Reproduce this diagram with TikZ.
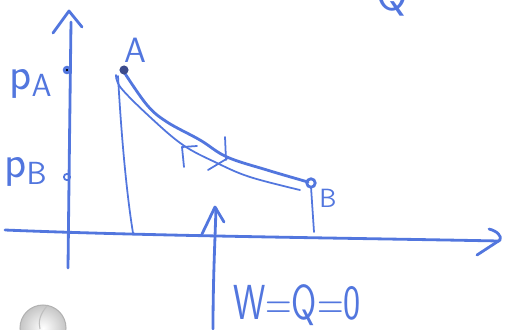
\documentclass[tikz,border=0pt]{standalone}
\usepackage{tikz}
\usepackage{amsmath}

\definecolor{pen}{RGB}{82,118,222}
\definecolor{pendot}{RGB}{60,75,140}

\begin{document}
\begin{tikzpicture}[
    x=0.02cm, y=-0.02cm,
    every node/.style={font=\sffamily, text=pen},
    pen/.style={draw=pen, line width=1.6pt, line cap=round, line join=round},
    thinpen/.style={draw=pen, line width=1.0pt, line cap=round, line join=round},
]

\useasboundingbox (0,0) rectangle (506,329);

% === State points ===
\coordinate (A) at (124,70);
\coordinate (B) at (311,183);
\coordinate (pAdot) at (67,70);
\coordinate (pBdot) at (67,177);

% === Axes ===
% Vertical (p) axis
\draw[pen] (68,268) .. controls (69,180) and (70,100) .. (71,22);
\draw[pen] (53,33) -- (69,11) -- (82,27);
% Horizontal (V) axis
\draw[pen] (5,230) .. controls (150,236) and (350,238) .. (499,241);
\draw[pen] (489,229) .. controls (497,231) and (502,236) .. (500,240) -- (477,255);

% Marks on the p axis
\fill[pen] (pAdot) circle (1.6pt);
\draw[thinpen] (pBdot) circle (1.8pt);
\node[font=\sffamily\fontsize{26}{30}\selectfont] (pA) at (31,84) {p\textsubscript{A}};
\node[font=\sffamily\fontsize{26}{30}\selectfont] (pB) at (26,172) {p\textsubscript{B}};

% === Process curves A -> B and back ===
\draw[pen] plot[smooth, tension=0.6] coordinates
    {(124,72) (147,105) (167,122) (200,140) (227,157) (267,170) (308,182)};
\draw[thinpen] plot[smooth, tension=0.6] coordinates
    {(116,75) (121,88) (150,117) (183,145) (217,163) (250,177) (300,190)};
% arrow on the return path
\draw[thinpen] (197,146) -- (182,147) -- (184,167);
% tick across the curves
\draw[thinpen] (225,137) -- (226,160);
\draw[thinpen] (208,170) -- (228,158);

% Points and labels
\fill[pendot] (A) circle (2.6pt);
\draw[pen] (B) circle (2.4pt);
\node[font=\sffamily\fontsize{20}{24}\selectfont] (Alabel) at (135,50) {A};
\node[font=\sffamily\fontsize{15}{18}\selectfont] (Blabel) at (328,198) {B};

% Drop lines to the V axis
\draw[thinpen] (118,76) .. controls (121,130) and (126,190) .. (133,233);
\draw[thinpen] (311,187) -- (314,232);

% === Annotation ===
\draw[pen] (213,329) .. controls (213,280) and (215,240) .. (216,208);
\draw[pen] (202,234) -- (215,207) -- (224,222);
\node[font=\sffamily\fontsize{28}{32}\selectfont, xscale=0.74, inner sep=0pt] (WQ) at (297,305) {W=Q=0};

% Q cut off at the top edge
\node[font=\sffamily\fontsize{26}{30}\selectfont, anchor=base] (Qtop) at (392,10) {Q};

% Magnet at the lower left corner
\shade[inner color=white, outer color=gray!45] (43,328) circle (0.46cm);
\draw[gray!60, line width=0.6pt] (43,328) circle (0.46cm);
\draw[gray!50, line width=0.6pt] (47,306) .. controls (40,314) and (38,322) .. (40,329);

\end{tikzpicture}
\end{document}
